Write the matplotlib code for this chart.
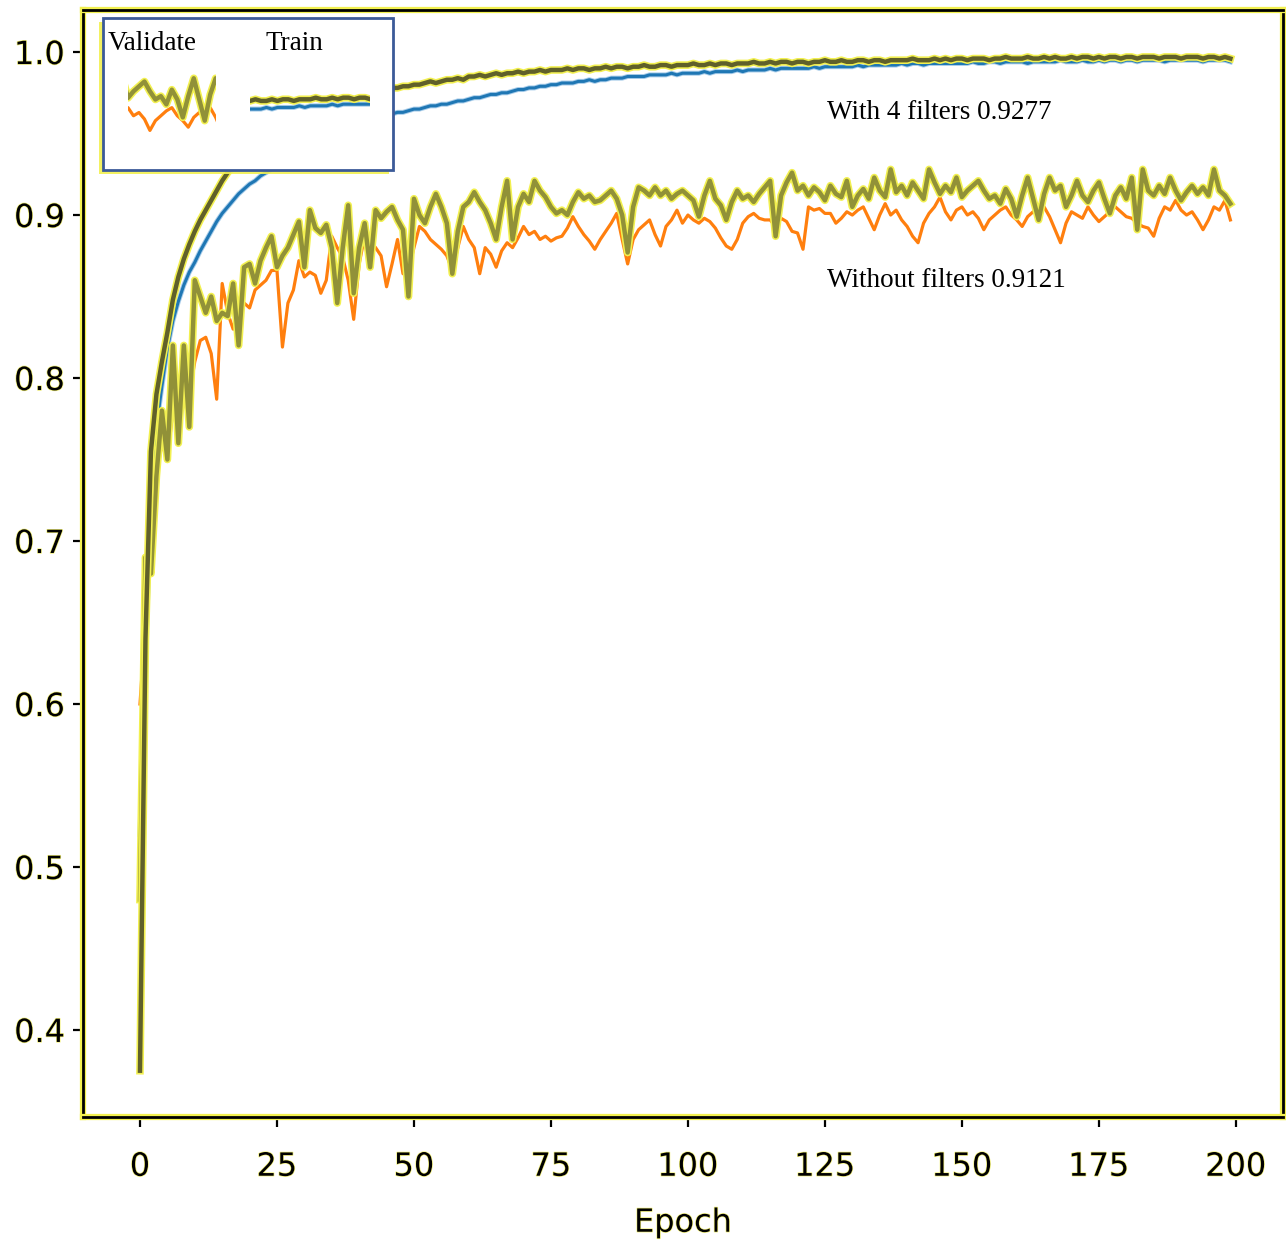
import numpy as np
import matplotlib
matplotlib.use("Agg")
import matplotlib.pyplot as plt
import matplotlib.patheffects as pe
from matplotlib.patches import Rectangle

# accuracy per epoch
val_filters = [
    0.48, 0.69, 0.68, 0.74, 0.78, 0.75, 0.82, 0.76, 0.82, 0.77,
    0.86, 0.85, 0.84, 0.85, 0.835, 0.84, 0.838, 0.858, 0.82, 0.868,
    0.87, 0.858, 0.872, 0.880, 0.887, 0.868, 0.875, 0.880, 0.888, 0.896,
    0.868, 0.903, 0.892, 0.889, 0.894, 0.880, 0.846, 0.880, 0.906, 0.852,
    0.880, 0.895, 0.868, 0.903, 0.898, 0.902, 0.905, 0.897, 0.891, 0.850,
    0.910, 0.900, 0.895, 0.905, 0.913, 0.905, 0.895, 0.864, 0.890, 0.905,
    0.908, 0.914, 0.908, 0.903, 0.895, 0.885, 0.905, 0.921, 0.885, 0.905,
    0.913, 0.908, 0.921, 0.915, 0.911, 0.905, 0.901, 0.903, 0.900, 0.908,
    0.914, 0.910, 0.912, 0.908, 0.909, 0.912, 0.915, 0.910, 0.900, 0.877,
    0.905, 0.917, 0.915, 0.912, 0.917, 0.912, 0.915, 0.910, 0.913, 0.915,
    0.912, 0.909, 0.899, 0.912, 0.921, 0.910, 0.906, 0.897, 0.908, 0.915,
    0.910, 0.912, 0.908, 0.913, 0.917, 0.921, 0.887, 0.912, 0.920, 0.926,
    0.915, 0.918, 0.912, 0.917, 0.914, 0.909, 0.918, 0.913, 0.911, 0.921,
    0.905, 0.912, 0.916, 0.910, 0.923, 0.915, 0.911, 0.928, 0.914, 0.918,
    0.912, 0.920, 0.915, 0.910, 0.928, 0.920, 0.913, 0.918, 0.914, 0.923,
    0.911, 0.915, 0.918, 0.921, 0.915, 0.910, 0.912, 0.907, 0.916, 0.910,
    0.899, 0.912, 0.923, 0.910, 0.897, 0.913, 0.923, 0.915, 0.918, 0.905,
    0.912, 0.921, 0.912, 0.908, 0.915, 0.920, 0.910, 0.901, 0.912, 0.917,
    0.910, 0.923, 0.891, 0.928, 0.915, 0.912, 0.918, 0.913, 0.923, 0.915,
    0.909, 0.914, 0.918, 0.913, 0.917, 0.912, 0.928, 0.915, 0.912, 0.907,
]

val_plain = [
    0.60, 0.65, 0.72, 0.74, 0.76, 0.75, 0.78, 0.77, 0.80, 0.79,
    0.81, 0.823, 0.825, 0.815, 0.787, 0.858, 0.840, 0.830, 0.844, 0.846,
    0.843, 0.854, 0.857, 0.860, 0.866, 0.866, 0.819, 0.846, 0.854, 0.872,
    0.862, 0.865, 0.863, 0.852, 0.860, 0.887, 0.880, 0.874, 0.860, 0.836,
    0.870, 0.887, 0.884, 0.880, 0.875, 0.856, 0.870, 0.885, 0.864, 0.866,
    0.880, 0.893, 0.890, 0.885, 0.882, 0.879, 0.875, 0.866, 0.880, 0.893,
    0.885, 0.880, 0.864, 0.880, 0.876, 0.868, 0.878, 0.883, 0.880, 0.886,
    0.893, 0.888, 0.890, 0.885, 0.887, 0.884, 0.886, 0.887, 0.892, 0.899,
    0.893, 0.888, 0.884, 0.879, 0.885, 0.890, 0.895, 0.901, 0.885, 0.870,
    0.885, 0.891, 0.894, 0.897, 0.888, 0.881, 0.893, 0.897, 0.903, 0.895,
    0.900, 0.897, 0.895, 0.898, 0.896, 0.892, 0.886, 0.881, 0.879, 0.885,
    0.895, 0.899, 0.901, 0.898, 0.897, 0.897, 0.893, 0.898, 0.896, 0.890,
    0.889, 0.879, 0.905, 0.903, 0.904, 0.901, 0.901, 0.895, 0.898, 0.902,
    0.900, 0.903, 0.905, 0.898, 0.891, 0.900, 0.907, 0.900, 0.903, 0.897,
    0.893, 0.887, 0.883, 0.895, 0.901, 0.905, 0.911, 0.902, 0.897, 0.903,
    0.905, 0.900, 0.902, 0.898, 0.891, 0.897, 0.900, 0.903, 0.905, 0.900,
    0.897, 0.893, 0.899, 0.902, 0.900, 0.905, 0.899, 0.891, 0.883, 0.895,
    0.902, 0.900, 0.898, 0.905, 0.900, 0.896, 0.899, 0.902, 0.905, 0.902,
    0.899, 0.898, 0.895, 0.893, 0.892, 0.887, 0.898, 0.905, 0.903, 0.909,
    0.903, 0.900, 0.902, 0.897, 0.891, 0.897, 0.905, 0.903, 0.909, 0.897,
]

train_filters = [
    0.375, 0.64, 0.755, 0.79, 0.81, 0.828, 0.848, 0.862, 0.873, 0.882,
    0.890, 0.897, 0.903, 0.909, 0.915, 0.921, 0.926, 0.930, 0.934, 0.938,
    0.941, 0.944, 0.947, 0.950, 0.952, 0.954, 0.956, 0.958, 0.960, 0.961,
    0.963, 0.964, 0.965, 0.966, 0.967, 0.968, 0.969, 0.970, 0.971, 0.972,
    0.973, 0.974, 0.975, 0.976, 0.977, 0.977, 0.978, 0.978, 0.979, 0.979,
    0.980, 0.980, 0.981, 0.982, 0.981, 0.982, 0.983, 0.983, 0.984, 0.983,
    0.985, 0.985, 0.986, 0.985, 0.986, 0.987, 0.986, 0.987, 0.987, 0.988,
    0.987, 0.988, 0.988, 0.989, 0.988, 0.989, 0.989, 0.989, 0.990, 0.989,
    0.990, 0.990, 0.989, 0.990, 0.990, 0.991, 0.990, 0.991, 0.991, 0.990,
    0.991, 0.991, 0.992, 0.991, 0.991, 0.992, 0.992, 0.991, 0.992, 0.992,
    0.992, 0.993, 0.992, 0.992, 0.993, 0.992, 0.993, 0.993, 0.992, 0.993,
    0.993, 0.993, 0.994, 0.993, 0.993, 0.994, 0.993, 0.994, 0.994, 0.993,
    0.994, 0.994, 0.993, 0.994, 0.994, 0.995, 0.994, 0.994, 0.995, 0.994,
    0.994, 0.995, 0.995, 0.994, 0.995, 0.995, 0.994, 0.995, 0.995, 0.995,
    0.995, 0.996, 0.995, 0.995, 0.995, 0.996, 0.995, 0.996, 0.995, 0.996,
    0.996, 0.995, 0.996, 0.996, 0.996, 0.995, 0.996, 0.996, 0.997, 0.996,
    0.996, 0.996, 0.997, 0.996, 0.996, 0.997, 0.996, 0.997, 0.996, 0.996,
    0.997, 0.996, 0.997, 0.997, 0.996, 0.997, 0.996, 0.997, 0.997, 0.996,
    0.997, 0.997, 0.996, 0.997, 0.997, 0.997, 0.996, 0.997, 0.997, 0.997,
    0.996, 0.997, 0.997, 0.997, 0.996, 0.997, 0.997, 0.996, 0.997, 0.996,
]

train_plain = [
    0.52, 0.63, 0.72, 0.77, 0.795, 0.818, 0.835, 0.847, 0.857, 0.865,
    0.871, 0.878, 0.884, 0.890, 0.896, 0.901, 0.905, 0.909, 0.913, 0.916,
    0.919, 0.921, 0.924, 0.926, 0.928, 0.930, 0.932, 0.934, 0.936, 0.938,
    0.940, 0.941, 0.943, 0.944, 0.946, 0.947, 0.948, 0.950, 0.951, 0.952,
    0.953, 0.955, 0.956, 0.957, 0.958, 0.960, 0.962, 0.963, 0.963, 0.964,
    0.965, 0.965, 0.966, 0.967, 0.967, 0.968, 0.968, 0.969, 0.970, 0.970,
    0.971, 0.972, 0.972, 0.973, 0.974, 0.974, 0.975, 0.975, 0.976, 0.977,
    0.977, 0.978, 0.978, 0.979, 0.979, 0.980, 0.980, 0.981, 0.981, 0.981,
    0.982, 0.982, 0.983, 0.982, 0.983, 0.983, 0.984, 0.984, 0.984, 0.985,
    0.985, 0.985, 0.985, 0.986, 0.986, 0.986, 0.986, 0.987, 0.986, 0.987,
    0.987, 0.987, 0.987, 0.988, 0.987, 0.988, 0.988, 0.988, 0.988, 0.989,
    0.988, 0.989, 0.989, 0.989, 0.989, 0.990, 0.989, 0.990, 0.990, 0.990,
    0.990, 0.990, 0.990, 0.991, 0.990, 0.991, 0.991, 0.991, 0.991, 0.991,
    0.991, 0.992, 0.991, 0.992, 0.992, 0.992, 0.992, 0.992, 0.992, 0.993,
    0.992, 0.993, 0.993, 0.992, 0.993, 0.993, 0.993, 0.993, 0.993, 0.993,
    0.993, 0.993, 0.994, 0.993, 0.993, 0.994, 0.994, 0.993, 0.994, 0.994,
    0.994, 0.994, 0.993, 0.994, 0.994, 0.994, 0.994, 0.994, 0.995, 0.994,
    0.994, 0.994, 0.995, 0.994, 0.994, 0.995, 0.994, 0.995, 0.995, 0.994,
    0.995, 0.995, 0.994, 0.995, 0.995, 0.995, 0.995, 0.994, 0.995, 0.995,
    0.995, 0.995, 0.995, 0.995, 0.994, 0.995, 0.995, 0.995, 0.995, 0.994,
]

epochs = np.arange(len(val_filters))
x_ticks = [0, 25, 50, 75, 100, 125, 150, 175, 200]
y_ticks = [0.4, 0.5, 0.6, 0.7, 0.8, 0.9, 1.0]
note_filters = "With 4 filters 0.9277"
note_plain = "Without filters 0.9121"

OLIVE_VAL = "#919138"
OLIVE_TRAIN = "#60602a"
HALO = "#f2f050"
ORANGE = "#ff7f0e"
BLUE = "#1f77b4"

halo = [pe.Stroke(linewidth=5.5, foreground=HALO), pe.Normal()]
blue_halo = [pe.Stroke(linewidth=3.6, foreground="#a9cdea"), pe.Normal()]
text_halo = [pe.Stroke(linewidth=1.0, foreground="#f4f27a"), pe.Normal()]

W, H = 1286, 1243
fig = plt.figure(figsize=(W / 100, H / 100), dpi=100)
ax = fig.add_axes([83 / W, 1 - 1117 / H, 1200 / W, 1107 / H])

ax.plot(epochs, train_plain, color=BLUE, lw=2.2, path_effects=blue_halo)
ax.plot(epochs, val_plain, color=ORANGE, lw=2.3)
ax.plot(epochs, val_filters, color=OLIVE_VAL, lw=3.2, path_effects=halo)
ax.plot(epochs, train_filters, color=OLIVE_TRAIN, lw=3.2, path_effects=halo)

ax.set_xlim(-10.4, 208.6)
ax.set_ylim(0.3466, 1.0258)
ax.set_xticks(x_ticks)
ax.set_yticks(y_ticks)
ax.set_yticklabels([f"{v:.1f}" for v in y_ticks])
ax.tick_params(axis="both", labelsize=23, length=7, width=1.6, color="black")
ax.tick_params(axis="x", pad=18)
ax.tick_params(axis="y", pad=6)
for lab in ax.get_xticklabels() + ax.get_yticklabels():
    lab.set_path_effects(text_halo)
for sp in ax.spines.values():
    sp.set_linewidth(2.0)
    sp.set_color("black")
    sp.set_path_effects([pe.Stroke(linewidth=4.5, foreground=HALO), pe.Normal()])
ax.set_xlabel("Epoch", fontsize=23, labelpad=18, path_effects=text_halo)

ax.text(125.4, 0.963, note_filters, fontsize=19.5, family="Liberation Serif",
        va="center", ha="left")
ax.text(125.4, 0.860, note_plain, fontsize=19.5, family="Liberation Serif",
        va="center", ha="left")

# inset legend box
box = Rectangle((103 / W, 1 - 170 / H), 290 / W, 152 / H, transform=fig.transFigure,
                facecolor="white", edgecolor="#3b5a98", linewidth=2.0, zorder=2,
                path_effects=[pe.SimplePatchShadow(offset=(-3, -3), shadow_rgbFace=HALO, alpha=0.9),
                              pe.Normal()])
fig.patches.append(box)
fig.text(108 / W, 1 - 43 / H, "Validate", fontsize=19.5, family="Liberation Serif",
         va="center", ha="left", zorder=4)
fig.text(266 / W, 1 - 43 / H, "Train", fontsize=19.5, family="Liberation Serif",
         va="center", ha="left", zorder=4)

# small samples of the curves inside the box
ax_v = fig.add_axes([128 / W, 1 - 150 / H, 88 / W, 88 / H])
ax_v.plot(epochs, val_plain, color=ORANGE, lw=2.3)
ax_v.plot(epochs, val_filters, color=OLIVE_VAL, lw=3.2, path_effects=halo)
ax_v.set_xlim(150, 150 + 88 / 5.48)
ax_v.set_ylim(0.879, 0.879 + 88 / 1630)

ax_t = fig.add_axes([250 / W, 1 - 120 / H, 120 / W, 35 / H])
ax_t.plot(epochs, train_plain, color=BLUE, lw=2.2, path_effects=blue_halo)
ax_t.plot(epochs, train_filters, color=OLIVE_TRAIN, lw=3.2, path_effects=halo)
ax_t.set_xlim(100, 100 + 120 / 5.48)
ax_t.set_ylim(0.9803, 0.9803 + 35 / 1630)

for a in (ax_v, ax_t):
    a.set_zorder(5)
    a.axis("off")
    a.patch.set_alpha(0)

fig.savefig("out.png", dpi=100)
